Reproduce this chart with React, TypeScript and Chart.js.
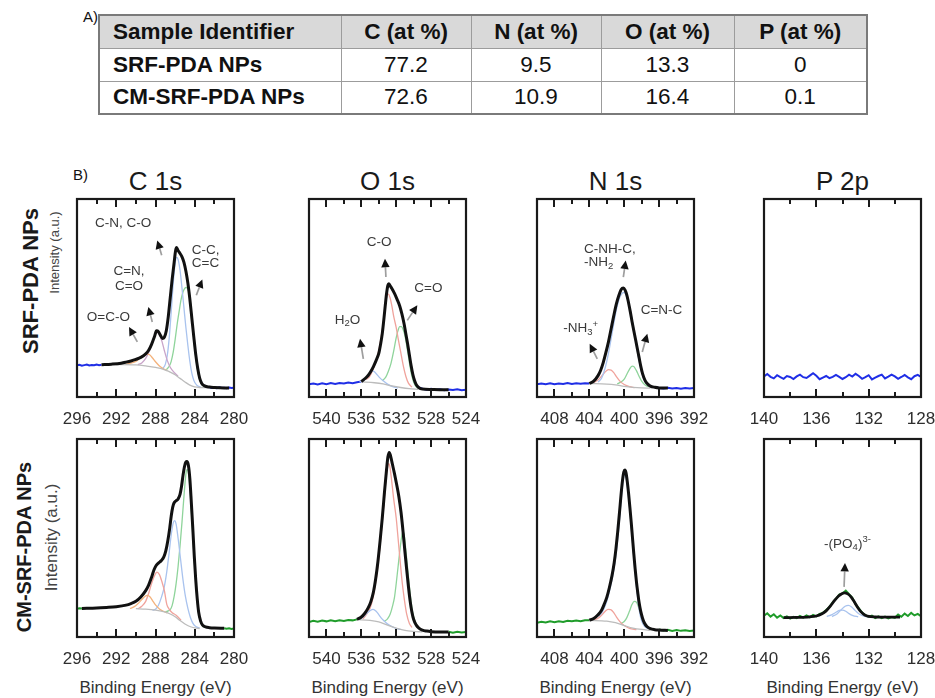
import React, { useEffect, useRef } from "react";
import { Chart, registerables } from "chart.js";

Chart.register(...registerables);

type P = [number, number];
type Seg = [string, number];
type Txt = { s: Seg[]; x: number; y: number; align?: "left" | "center" };

const FONT = "'Liberation Sans', Arial, Helvetica, sans-serif";

// ---------------- Table ----------------
const TABLE_HEADERS = ["Sample Identifier", "C (at %)", "N (at %)", "O (at %)", "P (at %)"];
const SAMPLES = ["SRF-PDA NPs", "CM-SRF-PDA NPs"];
const C_AT = [77.2, 72.6];
const N_AT = [9.5, 10.9];
const O_AT = [13.3, 16.4];
const P_AT = [0, 0.1];

// ---------------- Panels ----------------
const CORE_LEVELS = ["C 1s", "O 1s", "N 1s", "P 2p"];
const ROW_LABELS = ["SRF-PDA NPs", "CM-SRF-PDA NPs"];
const Y_TITLE = "Intensity (a.u.)";
const X_TITLE = "Binding Energy (eV)";

const C1S_TICKS = [294, 292, 290, 288, 286, 284, 282];
const C1S_LABELS = [296, 292, 288, 284, 280];
const O1S_TICKS = [540, 538, 536, 534, 532, 530, 528, 526];
const O1S_LABELS = [540, 536, 532, 528, 524];
const N1S_TICKS = [408, 406, 404, 402, 400, 398, 396, 394];
const N1S_LABELS = [408, 404, 400, 396, 392];
const P2P_TICKS = [138, 136, 134, 132, 130];
const P2P_LABELS = [140, 136, 132, 128];

// ===== C 1s, SRF-PDA =====
const C1S_TOP_RAW_L: P[] = [[296, 16.0], [295.75, 16.3], [295.5, 15.8], [295.25, 16.1], [295, 16.4], [294.75, 15.9], [294.5, 16.2], [294.25, 16.0], [294, 16.4], [293.75, 16.1], [293.5, 16.3]];
const C1S_TOP_RAW_R: P[] = [[282.5, 4.9], [282.25, 4.6], [282, 4.8], [281.75, 4.5], [281.5, 4.9], [281.25, 4.6], [281, 4.7], [280.75, 4.4], [280.5, 4.8], [280.25, 4.5], [280, 4.7]];
const C1S_TOP_ENV: P[] = [[293.5, 16.3], [292.5, 16.6], [291.5, 17.1], [291, 17.6], [290.5, 18.2], [290, 19.0], [289.5, 20.0], [289, 21.8], [288.7, 23.6], [288.4, 26.6], [288.1, 30.5], [287.9, 33.4], [287.7, 33.0], [287.5, 31.2], [287.3, 29.6], [287.1, 30.2], [286.9, 33.5], [286.7, 40.5], [286.5, 50], [286.3, 59.5], [286.1, 68], [285.95, 74], [285.85, 75.5], [285.7, 74], [285.5, 72.5], [285.3, 70.8], [285.1, 68], [284.9, 63.5], [284.7, 57.5], [284.5, 49.5], [284.3, 40], [284.1, 30.5], [283.9, 21.5], [283.7, 14.5], [283.5, 9.5], [283.3, 7], [283, 5.6], [282.5, 5], [282, 4.8], [281, 4.6], [280.5, 4.6]];
const C1S_TOP_BASE: P[] = [[292, 16.4], [290, 16.2], [289, 15.7], [288, 15], [287.5, 14.4], [287, 13.6], [286.5, 12.6], [286, 11.2], [285.5, 9.4], [285, 7.6], [284.5, 6], [284, 5.1], [283.5, 4.8], [282.5, 4.7]];
const C1S_TOP_OCO: P[] = [[291, 16.6], [290.5, 17.1], [290, 18], [289.6, 19.6], [289.2, 21.1], [288.9, 21.8], [288.6, 21.3], [288.3, 19.7], [288, 17.8], [287.6, 15.7], [287.2, 14.3], [286.8, 13.3]];
const C1S_TOP_CN: P[] = [[289.8, 16.3], [289.4, 17.2], [289, 19.5], [288.6, 23.5], [288.3, 28], [288.05, 31.5], [287.85, 32.6], [287.6, 31.5], [287.35, 28.2], [287.1, 23.5], [286.8, 18.5], [286.5, 15], [286.1, 12.4], [285.7, 10.6]];
const C1S_TOP_CO: P[] = [[287.3, 14.2], [287, 16.5], [286.8, 21], [286.6, 30], [286.4, 43], [286.2, 57], [286.0, 67.5], [285.85, 70.5], [285.7, 69.5], [285.5, 64], [285.3, 55], [285.1, 45], [284.9, 35], [284.7, 26], [284.5, 18], [284.3, 12], [284.1, 8.5], [283.8, 6], [283.4, 5]];
const C1S_TOP_CC: P[] = [[286.9, 13.8], [286.6, 15.5], [286.4, 18], [286.2, 22.5], [286, 29], [285.8, 36.5], [285.6, 43], [285.4, 49], [285.2, 53], [285.0, 55], [284.85, 55.3], [284.7, 54.5], [284.5, 50.5], [284.3, 40], [284.1, 29.5], [283.9, 20.5], [283.7, 13.5], [283.5, 9], [283.3, 6.5], [283, 5.1]];
const C1S_TOP_TEXTS: Txt[] = [
  { s: [["C-N, C-O", 0]], x: 291.3, y: 87.5 },
  { s: [["C-C,", 0]], x: 282.9, y: 74.3 },
  { s: [["C=C", 0]], x: 282.9, y: 67.3 },
  { s: [["C=N,", 0]], x: 290.7, y: 63.5 },
  { s: [["C=O", 0]], x: 290.7, y: 55.7 },
  { s: [["O=C-O", 0]], x: 292.8, y: 40.4 },
];
const C1S_TOP_ARROWS: [P, P][] = [
  [[287.37, 71.6], [287.82, 79.1]],
  [[283.84, 51.4], [283.23, 59.4]],
  [[288.33, 37.9], [288.73, 45.5]],
  [[289.85, 27.8], [290.7, 35.4]],
];

// ===== O 1s, SRF-PDA =====
const O1S_TOP_RAW_L: P[] = [[542, 6.4], [541.5, 6.8], [541, 6.3], [540.5, 6.9], [540, 6.5], [539.5, 7.0], [539, 6.6], [538.5, 7.1], [538, 6.8], [537.5, 7.3], [537, 7.0], [536.5, 7.5], [536, 7.8]];
const O1S_TOP_RAW_R: P[] = [[529.5, 5.0], [529, 4.2], [528.5, 3.7], [528, 4.1], [527.5, 3.6], [527, 3.9], [526.5, 3.4], [526, 3.8], [525.5, 3.5], [525, 3.9], [524.5, 3.4], [524, 3.7]];
const O1S_TOP_ENV: P[] = [[536, 7.8], [535.5, 9.6], [535.2, 11], [534.9, 13], [534.6, 15.5], [534.3, 18.5], [534, 22], [533.8, 26.5], [533.6, 32], [533.4, 40], [533.25, 46.5], [533.1, 52.5], [532.95, 56.5], [532.85, 57.2], [532.7, 56.2], [532.5, 54.8], [532.2, 52.3], [531.9, 49.3], [531.6, 46], [531.35, 42], [531.1, 37], [530.9, 32], [530.7, 27], [530.5, 21.5], [530.3, 16], [530.1, 11.5], [529.9, 8.3], [529.7, 6.2], [529.4, 4.7], [529, 4.0], [528, 3.8], [527, 3.7], [526, 3.7]];
const O1S_TOP_BASE: P[] = [[536, 7.6], [534.5, 7.2], [533.5, 6.6], [532.5, 5.6], [531.5, 4.8], [530.5, 4.2], [529.5, 3.9]];
const O1S_TOP_CO: P[] = [[535.5, 8.8], [535.1, 10], [534.7, 13.5], [534.3, 18.5], [534, 23.5], [533.7, 31], [533.4, 40], [533.2, 47.5], [533.05, 51.5], [532.9, 52], [532.7, 50], [532.5, 46], [532.3, 41], [532.0, 35], [531.8, 30], [531.5, 23], [531.2, 16], [530.9, 10.5], [530.6, 7], [530.2, 5]];
const O1S_TOP_CDO: P[] = [[533.6, 8.2], [533.2, 10], [532.9, 13], [532.6, 17], [532.3, 23], [532.0, 30], [531.8, 33.5], [531.6, 35.5], [531.4, 35.5], [531.2, 34], [531, 31], [530.8, 26], [530.6, 20.5], [530.4, 15], [530.2, 10.5], [530, 7.5], [529.7, 5.2], [529.3, 4.2]];
const O1S_TOP_H2O: P[] = [[536.2, 7.6], [535.7, 8.5], [535.3, 10.5], [535, 12.2], [534.75, 13.2], [534.5, 12.8], [534.2, 11.3], [533.9, 9.8], [533.5, 8.2], [533, 6.5], [532.4, 5.2], [531.8, 4.5]];
const O1S_TOP_TEXTS: Txt[] = [
  { s: [["C-O", 0]], x: 533.95, y: 78.3 },
  { s: [["C=O", 0]], x: 528.32, y: 54.7 },
  { s: [["H", 0], ["2", 1], ["O", 0]], x: 537.59, y: 38.7 },
];
const O1S_TOP_ARROWS: [P, P][] = [
  [[533.18, 60.6], [533.29, 69.8]],
  [[530.73, 38.7], [529.58, 46.3]],
  [[535.77, 19.3], [536.15, 29.4]],
];

// ===== N 1s, SRF-PDA =====
const N1S_TOP_RAW_L: P[] = [[410, 6.4], [409.5, 6.8], [409, 6.5], [408.5, 6.9], [408, 6.4], [407.5, 6.8], [407, 6.6], [406.5, 7.0], [406, 6.6], [405.5, 6.9], [405, 6.7], [404.5, 7.0], [404, 6.8]];
const N1S_TOP_RAW_R: P[] = [[396.5, 5.0], [396, 4.6], [395.5, 4.3], [395, 4.7], [394.5, 4.3], [394, 4.6], [393.5, 4.2], [393, 4.6], [392.5, 4.3], [392, 4.5]];
const N1S_TOP_ENV: P[] = [[404, 6.8], [403.5, 8], [403, 10.8], [402.7, 13.5], [402.4, 17.5], [402.1, 22.5], [401.8, 28], [401.5, 34.5], [401.2, 41], [400.9, 47], [400.6, 51.5], [400.35, 54.3], [400.1, 55], [399.9, 54], [399.7, 51.5], [399.5, 47.5], [399.3, 43], [399.1, 38], [398.9, 33.5], [398.7, 29], [398.5, 24.5], [398.3, 20], [398.1, 15.5], [397.9, 11.8], [397.6, 8.3], [397.3, 6.5], [397, 5.5], [396.5, 4.9], [396, 4.6], [395, 4.5]];
const N1S_TOP_BASE: P[] = [[404, 6.8], [402, 6.5], [401, 6.1], [400, 5.4], [399, 4.9], [398, 4.6], [397, 4.5]];
const N1S_TOP_CNHC: P[] = [[403, 7.5], [402.6, 9.5], [402.3, 13], [402, 18], [401.7, 24.5], [401.4, 32], [401.1, 39.5], [400.8, 46], [400.5, 50.5], [400.2, 52.5], [400, 52.8], [399.8, 51.5], [399.5, 47.5], [399.2, 41.5], [398.9, 34], [398.6, 26], [398.3, 18.5], [398, 12.5], [397.7, 8.5], [397.3, 6], [396.8, 5]];
const N1S_TOP_NH3: P[] = [[403.5, 7.4], [403, 8.6], [402.6, 10.5], [402.2, 12.6], [401.8, 13.8], [401.5, 13.6], [401.2, 12.3], [400.9, 10.3], [400.5, 8], [400, 6.3], [399.4, 5.2], [398.8, 4.7]];
const N1S_TOP_CNC: P[] = [[400.8, 6.6], [400.4, 7.5], [400, 9], [399.7, 11.5], [399.4, 14], [399.1, 15.6], [398.9, 15.4], [398.6, 13.3], [398.3, 10.5], [398, 8], [397.6, 6], [397.2, 5.1]];
const N1S_TOP_TEXTS: Txt[] = [
  { s: [["C-NH-C,", 0]], x: 404.61, y: 74.6, align: "left" },
  { s: [["-NH", 0], ["2", 1]], x: 404.61, y: 67.8, align: "left" },
  { s: [["C=N-C", 0]], x: 395.73, y: 43.8 },
  { s: [["-NH", 0], ["3", 1], ["+", 2]], x: 404.99, y: 34.5 },
];
const N1S_TOP_ARROWS: [P, P][] = [
  [[400.1, 60.6], [399.83, 69.0]],
  [[397.93, 22.7], [397.35, 32.0]],
  [[403.09, 19.3], [403.96, 26.9]],
];

// ===== P 2p, SRF-PDA =====
const P2P_TOP_RAW: P[] = [[140, 10.4], [139.75, 11.6], [139.5, 10.2], [139.25, 9.4], [139, 11.0], [138.75, 10.0], [138.5, 9.2], [138.25, 10.6], [138, 10.1], [137.75, 9.1], [137.5, 10.4], [137.25, 11.3], [137, 10.0], [136.75, 9.6], [136.5, 10.8], [136.25, 12.0], [136, 10.7], [135.75, 9.0], [135.5, 9.8], [135.25, 10.6], [135, 9.5], [134.75, 10.2], [134.5, 11.2], [134.25, 10.2], [134, 9.1], [133.75, 10.0], [133.5, 11.3], [133.25, 10.3], [133, 11.7], [132.75, 10.6], [132.5, 9.2], [132.25, 10.0], [132, 11.0], [131.75, 8.9], [131.5, 9.8], [131.25, 10.6], [131, 11.3], [130.75, 9.4], [130.5, 10.3], [130.25, 11.3], [130, 10.4], [129.75, 9.2], [129.5, 10.1], [129.25, 11.1], [129, 9.9], [128.75, 9.0], [128.5, 10.5], [128.25, 11.2], [128, 10.2]];

// ===== C 1s, CM-SRF-PDA =====
const C1S_BOT_RAW_L: P[] = [[296, 14.2], [295.75, 14.5], [295.5, 14.4]];
const C1S_BOT_RAW_R: P[] = [[281, 4.4], [280.75, 4.2], [280.5, 4.4], [280.25, 4.1], [280, 4.3]];
const C1S_BOT_ENV: P[] = [[295.5, 14.4], [294, 14.6], [293, 14.9], [292, 15.3], [291, 16.1], [290.5, 16.9], [290, 18], [289.5, 20.2], [289, 23.4], [288.7, 26.2], [288.4, 30.2], [288.15, 34], [287.95, 36], [287.7, 37.3], [287.4, 38.6], [287.15, 40.5], [286.95, 43.5], [286.75, 48.5], [286.55, 55], [286.4, 61], [286.25, 65.5], [286.1, 67.8], [285.9, 68.8], [285.7, 69.7], [285.5, 72], [285.35, 76], [285.2, 81.5], [285.05, 86], [284.9, 88.4], [284.8, 88.6], [284.65, 86.8], [284.5, 80], [284.35, 68], [284.2, 55], [284.05, 41], [283.9, 29], [283.75, 19.5], [283.6, 12.5], [283.4, 8], [283.2, 6], [282.9, 5.1], [282.5, 4.7], [282, 4.5], [281, 4.4]];
const C1S_BOT_BASE: P[] = [[290, 14.3], [289, 14.1], [288, 13.6], [287, 12.6], [286.5, 11.6], [286, 10.2], [285.5, 8.3], [285, 6.6], [284.5, 5.3], [284, 4.6], [283.5, 4.3]];
const C1S_BOT_OCO: P[] = [[290.6, 14.4], [290.2, 15.2], [289.8, 16.8], [289.4, 18.9], [289.05, 20.6], [288.8, 21], [288.55, 20.2], [288.3, 18.4], [288, 16.2], [287.6, 14.2], [287.2, 13], [286.8, 12.2]];
const C1S_BOT_CN: P[] = [[289.8, 14.3], [289.4, 15.5], [289, 18], [288.7, 22], [288.4, 27], [288.1, 31], [287.85, 32.8], [287.6, 31.5], [287.35, 28], [287.1, 23.5], [286.85, 16.5], [286.6, 14], [286.3, 12.3], [285.9, 11], [285.4, 8.5]];
const C1S_BOT_CO: P[] = [[288.3, 13.5], [288, 14], [287.7, 16], [287.4, 20], [287.1, 25.5], [286.85, 33], [286.6, 43], [286.4, 51.5], [286.2, 57.5], [286.05, 58.8], [285.9, 57], [285.7, 50], [285.45, 39.5], [285.2, 29], [284.95, 20.5], [284.7, 14.5], [284.45, 10], [284.2, 7], [283.9, 5.3], [283.5, 4.5]];
const C1S_BOT_CC: P[] = [[287, 12.6], [286.7, 13.2], [286.5, 13.8], [286.3, 16], [286.1, 20.5], [285.9, 27], [285.7, 35.5], [285.5, 46], [285.3, 58], [285.1, 71], [284.95, 80], [284.85, 84], [284.75, 84.5], [284.6, 81], [284.45, 72], [284.3, 60], [284.15, 47], [284, 35], [283.85, 24.5], [283.7, 16], [283.5, 9.5], [283.3, 6.3], [283, 4.8]];

// ===== O 1s, CM-SRF-PDA =====
const O1S_BOT_RAW_L: P[] = [[542, 7.6], [541.5, 8.2], [541, 7.7], [540.5, 8.3], [540, 7.9], [539.5, 8.4], [539, 8.0], [538.5, 8.5], [538, 8.1], [537.5, 8.6], [537, 8.4], [536.5, 8.9]];
const O1S_BOT_RAW_R: P[] = [[526, 2.6], [525.5, 2.2], [525, 2.6], [524.5, 2.3], [524, 2.5]];
const O1S_BOT_ENV: P[] = [[536.5, 8.9], [536, 10.1], [535.6, 12], [535.2, 14.8], [534.9, 18], [534.6, 23], [534.35, 29.5], [534.1, 38], [533.85, 48.5], [533.6, 60], [533.35, 73], [533.1, 85], [532.95, 91], [532.8, 93.2], [532.65, 91.5], [532.45, 87.5], [532.2, 82.5], [531.95, 77], [531.7, 71], [531.45, 63], [531.2, 52.5], [531, 43], [530.8, 34], [530.6, 25.5], [530.4, 18], [530.2, 12.5], [530, 8.8], [529.7, 6], [529.4, 4.5], [529, 3.5], [528.5, 3], [528, 2.7], [527, 2.5], [526, 2.5]];
const O1S_BOT_BASE: P[] = [[536.5, 8.8], [535, 8.4], [534, 7.6], [533, 6], [532, 4.5], [531, 3.3], [530, 2.8], [529, 2.6]];
const O1S_BOT_CO: P[] = [[535.8, 9.2], [535.4, 11.5], [535, 14.5], [534.7, 19], [534.4, 26], [534.15, 34], [533.9, 44], [533.65, 56], [533.4, 68], [533.2, 78.5], [533.0, 85.5], [532.88, 87.5], [532.75, 86.5], [532.55, 80], [532.3, 70], [532.0, 60], [531.75, 48], [531.5, 36], [531.3, 27], [531.07, 19], [530.8, 11.5], [530.5, 7], [530.2, 4.8]];
const O1S_BOT_CDO: P[] = [[533.4, 7.8], [533, 9.2], [532.7, 11.5], [532.4, 16], [532.2, 20], [532, 27], [531.8, 35], [531.6, 43], [531.4, 50], [531.25, 53], [531.1, 52], [530.9, 44], [530.7, 35], [530.5, 25.8], [530.3, 18], [530.1, 12.2], [529.85, 8], [529.6, 5.5], [529.2, 3.8]];
const O1S_BOT_H2O: P[] = [[536.3, 8.9], [535.8, 10], [535.4, 11.8], [535, 13.3], [534.65, 14], [534.3, 13], [534, 11.3], [533.6, 9], [533.1, 7], [532.6, 5.5], [532.1, 4.5], [531.5, 3.8]];

// ===== N 1s, CM-SRF-PDA =====
const N1S_BOT_RAW_L: P[] = [[410, 7.2], [409.5, 7.7], [409, 7.3], [408.5, 7.9], [408, 7.5], [407.5, 8.0], [407, 7.6], [406.5, 8.2], [406, 7.9], [405.5, 8.3], [405, 8.0], [404.5, 8.5], [404, 8.5]];
const N1S_BOT_RAW_R: P[] = [[396, 3.8], [395.5, 3.3], [395, 3.6], [394.5, 3.1], [394, 3.5], [393.5, 3.1], [393, 3.4], [392.5, 3.0], [392, 3.3]];
const N1S_BOT_ENV: P[] = [[404, 8.5], [403.5, 9.3], [403, 11.2], [402.6, 13.5], [402.3, 16.5], [402, 20], [401.7, 25], [401.4, 31], [401.15, 37.5], [400.95, 44.5], [400.75, 53], [400.55, 62.5], [400.35, 72.5], [400.2, 79], [400.05, 83.3], [399.92, 84.3], [399.8, 83], [399.65, 78.5], [399.5, 72.5], [399.35, 65.5], [399.2, 58], [399.05, 50], [398.9, 42], [398.75, 34.5], [398.6, 28], [398.45, 22.5], [398.3, 17.5], [398.1, 12.8], [397.9, 9.5], [397.7, 7.2], [397.4, 5.3], [397, 4.2], [396.5, 3.7], [396, 3.5], [395, 3.3]];
const N1S_BOT_BASE: P[] = [[404, 8.4], [402, 8], [401, 7.2], [400, 5.8], [399, 4.5], [398, 3.8], [397, 3.4]];
const N1S_BOT_CNHC: P[] = [[403, 10.5], [402.6, 12], [402.3, 14.5], [402, 18], [401.7, 23], [401.4, 29], [401.1, 36.5], [400.85, 45], [400.6, 56], [400.4, 67], [400.2, 76], [400.05, 81], [399.92, 82], [399.8, 80.5], [399.6, 74.5], [399.4, 66], [399.2, 56], [399, 45.5], [398.8, 35], [398.6, 25.5], [398.4, 17.5], [398.2, 11.5], [398, 8], [397.7, 5.5], [397.3, 4.2]];
const N1S_BOT_NH3: P[] = [[403.5, 8.6], [403, 9.5], [402.6, 11], [402.2, 12.9], [401.85, 14], [401.55, 13.8], [401.2, 12.3], [400.9, 10.2], [400.5, 7.8], [400, 5.8], [399.4, 4.4], [398.6, 3.7]];
const N1S_BOT_CNC: P[] = [[400.4, 6.8], [400, 7.8], [399.7, 9.8], [399.4, 13], [399.1, 16.5], [398.85, 18], [398.6, 17.6], [398.35, 15], [398.1, 11.5], [397.85, 8.5], [397.6, 6.2], [397.2, 4.6]];

// ===== P 2p, CM-SRF-PDA =====
const P2P_BOT_RAW: P[] = [[140, 10.8], [139.75, 12.0], [139.5, 10.3], [139.25, 11.5], [139, 9.8], [138.75, 10.9], [138.5, 9.6], [138.25, 10.4], [138, 9.3], [137.75, 10.2], [137.5, 9.5], [137.25, 10.6], [137, 9.8], [136.75, 10.9], [136.5, 10.0], [136.25, 11.2], [136, 10.4], [135.75, 11.6], [135.5, 12.1], [135.25, 13.6], [135, 15.2], [134.75, 17.5], [134.5, 19.3], [134.25, 21.4], [134, 22.0], [133.75, 23.4], [133.5, 21.6], [133.25, 19.8], [133, 16.6], [132.75, 14.5], [132.5, 12.3], [132.25, 11.0], [132, 10.1], [131.75, 10.8], [131.5, 9.6], [131.25, 10.4], [131, 9.5], [130.75, 10.3], [130.5, 9.4], [130.25, 10.1], [130, 9.7], [129.75, 11.3], [129.5, 10.2], [129.25, 11.8], [129, 10.6], [128.75, 12.2], [128.5, 10.9], [128.25, 11.7], [128, 10.5]];
const P2P_BOT_ENV: P[] = [[138.5, 9.8], [137.5, 9.9], [136.5, 10.2], [136, 10.6], [135.6, 11.6], [135.25, 13.2], [134.9, 15.8], [134.6, 18.5], [134.3, 20.7], [134.05, 21.9], [133.85, 22.3], [133.6, 21.8], [133.35, 20.3], [133.1, 17.8], [132.85, 15], [132.6, 12.8], [132.3, 11.1], [132, 10.4], [131.5, 10.1], [130.5, 10], [129.6, 10]];
const P2P_BOT_A: P[] = [[135.2, 10.3], [134.8, 11.3], [134.5, 12.5], [134.25, 13.4], [134, 13.6], [133.75, 13], [133.5, 11.8], [133.2, 10.8], [132.8, 10.2]];
const P2P_BOT_B: P[] = [[134.8, 10.3], [134.4, 11.8], [134.1, 13.8], [133.8, 15.5], [133.55, 16], [133.3, 15.2], [133, 13.2], [132.7, 11.5], [132.3, 10.4], [131.9, 10.1]];
const P2P_BOT_TEXTS: Txt[] = [{ s: [["-(PO", 0], ["4", 1], [")", 0], ["3-", 2]], x: 133.62, y: 46.8 }];
const P2P_BOT_ARROWS: [P, P][] = [[[133.88, 25.3], [133.81, 37.4]]];

// ---------------- styling ----------------
const BLUE_RAW = "#1f2ee6";
const GREEN_RAW = "#1f9c2a";
const ENV_COLOR = "#111111";
const C_RED = "#f0a39c";
const C_BLUE = "#a9c3ee";
const C_GREEN = "#8fd49b";
const C_PURPLE = "#c9a4c9";
const C_ORANGE = "#f3b27c";
const C_GRAY = "#bcbcbc";

const COL_LEFT = [77, 309, 537, 764];
const ROW_TOP = [199, 439];
const BOX_W = 157;
const BOX_H = 198;
const PL = 26, PR = 26, PT = 6, PB = 36;

type Panel = {
  col: number; row: number; min: number; max: number;
  ticks: number[]; labels: number[];
  raw: P[][]; rawColor: string;
  env: P[] | null; envWidth: number;
  comps: [P[], string][];
  texts: Txt[]; arrows: [P, P][];
};

const PANELS: Panel[] = [
  { col: 0, row: 0, min: 280, max: 296, ticks: C1S_TICKS, labels: C1S_LABELS, raw: [C1S_TOP_RAW_L, C1S_TOP_RAW_R], rawColor: BLUE_RAW, env: C1S_TOP_ENV, envWidth: 3,
    comps: [[C1S_TOP_BASE, C_GRAY], [C1S_TOP_OCO, C_ORANGE], [C1S_TOP_CN, C_PURPLE], [C1S_TOP_CO, C_BLUE], [C1S_TOP_CC, C_GREEN]], texts: C1S_TOP_TEXTS, arrows: C1S_TOP_ARROWS },
  { col: 1, row: 0, min: 524, max: 542, ticks: O1S_TICKS, labels: O1S_LABELS, raw: [O1S_TOP_RAW_L, O1S_TOP_RAW_R], rawColor: BLUE_RAW, env: O1S_TOP_ENV, envWidth: 3,
    comps: [[O1S_TOP_BASE, C_GRAY], [O1S_TOP_H2O, C_BLUE], [O1S_TOP_CO, C_RED], [O1S_TOP_CDO, C_GREEN]], texts: O1S_TOP_TEXTS, arrows: O1S_TOP_ARROWS },
  { col: 2, row: 0, min: 392, max: 410, ticks: N1S_TICKS, labels: N1S_LABELS, raw: [N1S_TOP_RAW_L, N1S_TOP_RAW_R], rawColor: BLUE_RAW, env: N1S_TOP_ENV, envWidth: 3,
    comps: [[N1S_TOP_BASE, C_GRAY], [N1S_TOP_CNHC, C_BLUE], [N1S_TOP_NH3, C_RED], [N1S_TOP_CNC, C_GREEN]], texts: N1S_TOP_TEXTS, arrows: N1S_TOP_ARROWS },
  { col: 3, row: 0, min: 128, max: 140, ticks: P2P_TICKS, labels: P2P_LABELS, raw: [P2P_TOP_RAW], rawColor: BLUE_RAW, env: null, envWidth: 0,
    comps: [], texts: [], arrows: [] },
  { col: 0, row: 1, min: 280, max: 296, ticks: C1S_TICKS, labels: C1S_LABELS, raw: [C1S_BOT_RAW_L, C1S_BOT_RAW_R], rawColor: GREEN_RAW, env: C1S_BOT_ENV, envWidth: 3,
    comps: [[C1S_BOT_BASE, C_GRAY], [C1S_BOT_OCO, C_ORANGE], [C1S_BOT_CN, C_RED], [C1S_BOT_CO, C_BLUE], [C1S_BOT_CC, C_GREEN]], texts: [], arrows: [] },
  { col: 1, row: 1, min: 524, max: 542, ticks: O1S_TICKS, labels: O1S_LABELS, raw: [O1S_BOT_RAW_L, O1S_BOT_RAW_R], rawColor: GREEN_RAW, env: O1S_BOT_ENV, envWidth: 3,
    comps: [[O1S_BOT_BASE, C_GRAY], [O1S_BOT_H2O, C_BLUE], [O1S_BOT_CO, C_RED], [O1S_BOT_CDO, C_GREEN]], texts: [], arrows: [] },
  { col: 2, row: 1, min: 392, max: 410, ticks: N1S_TICKS, labels: N1S_LABELS, raw: [N1S_BOT_RAW_L, N1S_BOT_RAW_R], rawColor: GREEN_RAW, env: N1S_BOT_ENV, envWidth: 3,
    comps: [[N1S_BOT_BASE, C_GRAY], [N1S_BOT_CNHC, C_BLUE], [N1S_BOT_NH3, C_RED], [N1S_BOT_CNC, C_GREEN]], texts: [], arrows: [] },
  { col: 3, row: 1, min: 128, max: 140, ticks: P2P_TICKS, labels: P2P_LABELS, raw: [P2P_BOT_RAW], rawColor: GREEN_RAW, env: P2P_BOT_ENV, envWidth: 2.8,
    comps: [[P2P_BOT_A, C_BLUE], [P2P_BOT_B, C_BLUE]], texts: P2P_BOT_TEXTS, arrows: P2P_BOT_ARROWS },
];

function drawRich(ctx: CanvasRenderingContext2D, segs: Seg[], x: number, y: number, align: string) {
  const big = 13.5, small = 9.5;
  const widths = segs.map(([t, k]) => {
    ctx.font = `${k ? small : big}px ${FONT}`;
    return ctx.measureText(t).width;
  });
  const total = widths.reduce((s, w) => s + w, 0);
  let cx = align === "left" ? x : x - total / 2;
  segs.forEach(([t, k], i) => {
    ctx.font = `${k ? small : big}px ${FONT}`;
    const dy = k === 1 ? 3.5 : k === 2 ? -4.5 : 0;
    ctx.fillText(t, cx, y + dy);
    cx += widths[i];
  });
}

function drawArrow(ctx: CanvasRenderingContext2D, x1: number, y1: number, x2: number, y2: number) {
  const ang = Math.atan2(y2 - y1, x2 - x1);
  const L = 8.5, W = 4.2;
  const bx = x2 - L * Math.cos(ang), by = y2 - L * Math.sin(ang);
  ctx.strokeStyle = "#9e9e9e";
  ctx.lineWidth = 1.7;
  ctx.beginPath();
  ctx.moveTo(x1, y1);
  ctx.lineTo(bx, by);
  ctx.stroke();
  ctx.fillStyle = "#111";
  ctx.beginPath();
  ctx.moveTo(x2, y2);
  ctx.lineTo(bx + W * Math.sin(ang), by - W * Math.cos(ang));
  ctx.lineTo(bx - W * Math.sin(ang), by + W * Math.cos(ang));
  ctx.closePath();
  ctx.fill();
}

function makeFrame(p: Panel) {
  return {
    id: "frame",
    afterDatasetsDraw(chart: any) {
      const { ctx, chartArea: a, scales } = chart;
      const xs = scales.x, ys = scales.y;
      ctx.save();
      for (const [from, to] of p.arrows) {
        drawArrow(ctx, xs.getPixelForValue(from[0]), ys.getPixelForValue(from[1]), xs.getPixelForValue(to[0]), ys.getPixelForValue(to[1]));
      }
      ctx.fillStyle = "#3a3a3a";
      ctx.textAlign = "left";
      ctx.textBaseline = "middle";
      for (const t of p.texts) {
        drawRich(ctx, t.s, xs.getPixelForValue(t.x), ys.getPixelForValue(t.y), t.align || "center");
      }
      ctx.strokeStyle = "#1a1a1a";
      ctx.lineWidth = 2.2;
      ctx.strokeRect(a.left, a.top, a.right - a.left, a.bottom - a.top);
      ctx.lineWidth = 2;
      for (const t of p.ticks) {
        const x = Math.round(xs.getPixelForValue(t));
        const len = p.labels.includes(t) ? 8 : 5;
        ctx.beginPath();
        ctx.moveTo(x, a.top);
        ctx.lineTo(x, a.top + len);
        ctx.moveTo(x, a.bottom);
        ctx.lineTo(x, a.bottom - len);
        ctx.stroke();
      }
      ctx.fillStyle = "#2e2e2e";
      ctx.font = `17px ${FONT}`;
      ctx.textAlign = "center";
      ctx.textBaseline = "alphabetic";
      for (const v of p.labels) {
        ctx.fillText(String(v), xs.getPixelForValue(v), a.bottom + 27);
      }
      ctx.restore();
    },
  };
}

function line(pts: P[], color: string, width: number, order: number, smooth: boolean) {
  return {
    data: pts.map(([x, y]) => ({ x, y })),
    borderColor: color,
    borderWidth: width,
    pointRadius: 0,
    fill: false,
    order,
    tension: smooth ? 0.4 : 0,
    cubicInterpolationMode: smooth ? "monotone" : "default",
  };
}

function XpsPanel({ p }: { p: Panel }) {
  const ref = useRef<HTMLCanvasElement>(null);
  const W = BOX_W + PL + PR, H = BOX_H + PT + PB;
  useEffect(() => {
    const datasets: any[] = [];
    if (p.env) datasets.push(line(p.env, ENV_COLOR, p.envWidth, 0, true));
    p.comps.forEach(([pts, c]) => datasets.push(line(pts, c, 1.3, 1, true)));
    p.raw.forEach((pts) => datasets.push(line(pts, p.rawColor, 2, 2, false)));
    const chart = new Chart(ref.current as HTMLCanvasElement, {
      type: "line",
      data: { datasets },
      options: {
        animation: false,
        responsive: false,
        maintainAspectRatio: false,
        devicePixelRatio: 1,
        events: [],
        layout: { padding: { left: PL, right: PR, top: PT, bottom: PB } },
        plugins: { legend: { display: false }, tooltip: { enabled: false } },
        scales: {
          x: { type: "linear", min: p.min, max: p.max, reverse: true, display: false },
          y: { type: "linear", min: 0, max: 100, display: false },
        },
      } as any,
      plugins: [makeFrame(p)],
    });
    return () => chart.destroy();
  }, []);
  return (
    <canvas
      ref={ref}
      width={W}
      height={H}
      style={{ position: "absolute", left: COL_LEFT[p.col] - PL, top: ROW_TOP[p.row] - PT, width: W, height: H }}
    />
  );
}

function Rot({ text, cx, cy, size, bold, color }: { text: string; cx: number; cy: number; size: number; bold?: boolean; color: string }) {
  const w = 260;
  return (
    <div
      style={{
        position: "absolute", left: cx - w / 2, top: cy - size / 2, width: w, height: size, lineHeight: `${size}px`,
        fontSize: size, fontWeight: bold ? 700 : 400, color, textAlign: "center", whiteSpace: "nowrap",
        transform: "rotate(-90deg)", transformOrigin: "50% 50%",
      }}
    >
      {text}
    </div>
  );
}

export default function App() {
  const cellB = "1px solid #9c9c9c";
  const td = (align: "left" | "center", bold: boolean): React.CSSProperties => ({
    border: cellB, textAlign: align, fontWeight: bold ? 700 : 400, padding: align === "left" ? "0 0 0 13px" : 0,
    whiteSpace: "nowrap", overflow: "hidden",
  });
  const rows = SAMPLES.map((s, i) => [s, String(C_AT[i]), String(N_AT[i]), String(O_AT[i]), String(P_AT[i])]);
  return (
    <div style={{ position: "absolute", left: 0, top: 0, width: 935, height: 698, overflow: "hidden", background: "#fff", fontFamily: FONT, color: "#111" }}>
      <div style={{ position: "absolute", left: 83, top: 9, fontSize: 15, lineHeight: "15px" }}>A)</div>
      <table
        style={{ position: "absolute", left: 98, top: 14, width: 768, borderCollapse: "collapse", tableLayout: "fixed", fontSize: 22.5, border: "2px solid #7a7a7a" }}
      >
        <colgroup>
          <col style={{ width: 242 }} />
          <col style={{ width: 130 }} />
          <col style={{ width: 130 }} />
          <col style={{ width: 133 }} />
          <col style={{ width: 133 }} />
        </colgroup>
        <tbody>
          <tr style={{ height: 33, background: "#d9d9d9" }}>
            {TABLE_HEADERS.map((h, j) => (
              <td key={j} style={td(j === 0 ? "left" : "center", true)}>{h}</td>
            ))}
          </tr>
          {rows.map((r, i) => (
            <tr key={i} style={{ height: 33 }}>
              {r.map((c, j) => (
                <td key={j} style={td(j === 0 ? "left" : "center", j === 0)}>{c}</td>
              ))}
            </tr>
          ))}
        </tbody>
      </table>

      <div style={{ position: "absolute", left: 73, top: 167, fontSize: 15, lineHeight: "15px" }}>B)</div>
      {CORE_LEVELS.map((t, j) => (
        <div key={t} style={{ position: "absolute", left: COL_LEFT[j], top: 168, width: BOX_W, textAlign: "center", fontSize: 26, lineHeight: "26px", color: "#1a1a1a" }}>
          {t}
        </div>
      ))}
      {CORE_LEVELS.map((t, j) => (
        <div key={"x" + t} style={{ position: "absolute", left: COL_LEFT[j] - 20, top: 678.6, width: BOX_W + 40, textAlign: "center", fontSize: 17, lineHeight: "17px", color: "#333", whiteSpace: "nowrap" }}>
          {X_TITLE}
        </div>
      ))}

      <Rot text={ROW_LABELS[0]} cx={31} cy={281} size={22} bold color="#1a1a1a" />
      <Rot text={Y_TITLE} cx={54} cy={252} size={13} color="#444" />
      <Rot text={ROW_LABELS[1]} cx={24} cy={547} size={20} bold color="#1a1a1a" />
      <Rot text={Y_TITLE} cx={51} cy={537} size={17} color="#444" />

      {PANELS.map((p, i) => (
        <XpsPanel key={i} p={p} />
      ))}
    </div>
  );
}
